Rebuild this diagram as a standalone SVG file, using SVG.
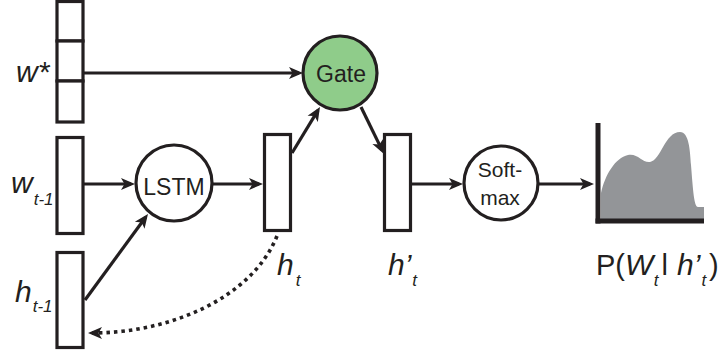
<svg xmlns="http://www.w3.org/2000/svg" width="720" height="355" viewBox="0 0 720 355">
<style>
.box{fill:#fff;stroke:#231f20;stroke-width:3.2}
.node{stroke:#231f20;stroke-width:3.2}
.edge{fill:none;stroke:#231f20;stroke-width:3.2}
.dot{fill:none;stroke:#231f20;stroke-width:3.6;stroke-dasharray:3.5 4}
text{font-family:"Liberation Sans",Arial,Helvetica,sans-serif;fill:#231f20}
.lbl{font-size:30px;font-style:italic}
.sub{font-size:17px;font-style:italic}
.in{font-size:23px;text-anchor:middle}
.up{font-size:29px}
</style>
<defs>
<marker id="ah" markerUnits="userSpaceOnUse" markerWidth="16" markerHeight="14" viewBox="0 -7 16 14" refX="10" refY="0" orient="auto">
<path d="M0,-6 L14,0 L0,6 L3.5,0 Z" fill="#231f20"/>
</marker>
</defs>

<g id="connectors">
<line class="edge" x1="84" y1="73" x2="299" y2="73" marker-end="url(#ah)"/>
<line class="edge" x1="84" y1="184" x2="131" y2="184" marker-end="url(#ah)"/>
<line class="edge" x1="212" y1="184" x2="259" y2="184" marker-end="url(#ah)"/>
<line class="edge" x1="292" y1="153" x2="317.9" y2="110.4" marker-end="url(#ah)"/>
<line class="edge" x1="361" y1="107" x2="382.2" y2="150.4" marker-end="url(#ah)"/>
<line class="edge" x1="412" y1="184" x2="459" y2="184" marker-end="url(#ah)"/>
<line class="edge" x1="539" y1="184" x2="590" y2="184" marker-end="url(#ah)"/>
<line class="edge" x1="85" y1="300" x2="145.6" y2="217.2" marker-end="url(#ah)"/>
<path class="dot" d="M277,236 C252,298 170,333 92,333" marker-end="url(#ah)"/>
</g>

<g id="w-star">
<rect class="box" x="57" y="1.5" width="26" height="39.5"/>
<rect class="box" x="57" y="41" width="26" height="40"/>
<rect class="box" x="57" y="81" width="26" height="41"/>
<text class="lbl" x="16" y="82">w*</text>
</g>

<g id="w-t-1">
<rect class="box" x="57" y="137.5" width="26" height="96"/>
<text x="11" y="193"><tspan class="lbl">w</tspan><tspan class="sub" dx="1" y="205">t-1</tspan></text>
</g>

<g id="h-t-1">
<rect class="box" x="57" y="252.5" width="26" height="95"/>
<text x="15" y="302"><tspan class="lbl">h</tspan><tspan class="sub" dx="1" y="312">t-1</tspan></text>
</g>

<g id="lstm">
<circle class="node" cx="174" cy="183" r="38" fill="#fff"/>
<text class="in" x="174" y="195">LSTM</text>
</g>

<g id="h-t">
<rect class="box" x="264.5" y="134.5" width="26" height="96"/>
<text x="277" y="275"><tspan class="lbl">h</tspan><tspan class="sub" dx="2" y="286">t</tspan></text>
</g>

<g id="gate">
<circle class="node" cx="340" cy="73" r="37" fill="#8fcc8a"/>
<text class="in" x="341" y="82">Gate</text>
</g>

<g id="h-prime-t">
<rect class="box" x="384.5" y="134.5" width="26" height="96"/>
<text x="388" y="275"><tspan class="lbl">h’</tspan><tspan class="sub" dx="1" y="286">t</tspan></text>
</g>

<g id="softmax">
<circle class="node" cx="501" cy="183" r="37" fill="#fff"/>
<text class="in" x="500" y="177" style="font-size:21px">Soft-</text>
<text class="in" x="500" y="205" style="font-size:21px">max</text>
</g>

<g id="distribution">
<path d="M601,219 L601,193 C605,175 615,158 628,155 C638,153 642,163 650,162 C661,160 665,132 680,132 C689,132 690,150 691,165 C693,190 694,207 698,207 L704,207 L704,219 Z" fill="#939598"/>
<line x1="598" y1="123" x2="598" y2="223.5" stroke="#231f20" stroke-width="5"/>
<line x1="595.5" y1="221" x2="704" y2="221" stroke="#231f20" stroke-width="5"/>
<text y="275"><tspan class="up" x="596">P(</tspan><tspan class="lbl">W</tspan><tspan class="sub" dx="0.5" y="286">t</tspan><tspan class="up" dx="3" y="275">l</tspan><tspan class="lbl" dx="9">h’</tspan><tspan class="sub" dx="1" y="286">t</tspan><tspan class="up" dx="3" y="275">)</tspan></text>
</g>
</svg>
